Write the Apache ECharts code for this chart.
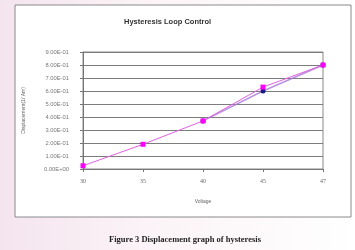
<!DOCTYPE html>
<html>
<head>
<meta charset="utf-8">
<script src="https://cdn.jsdelivr.net/npm/echarts@6/dist/echarts.min.js"></script>
<style>
  html,body{margin:0;padding:0;}
  body{background:linear-gradient(90deg,#f4e4ee 0%,#fbf3f7 40%,#ffffff 100%);}
  #main{width:355px;height:250px;}
</style>
</head>
<body>
<div id="main"></div>
<script>
  // 横轴电压
  var voltage=["30","35","40","45","47"];
  // 位移 (两条曲线)
  var dispUp=[0.025,0.19,0.37,0.63,0.80];
  var dispDown=[null,null,0.37,0.60,0.80];
  var yTicks=[0,0.1,0.2,0.3,0.4,0.5,0.6,0.7,0.8,0.9];

  var fmtE=function(v){
    var s=Number(v).toExponential(2).toUpperCase();
    // 1.00E-1 -> 1.00E-01
    return s.replace(/E([+-])(\d)$/,"E$10$2");
  };

  var chart=echarts.init(document.getElementById("main"));
  chart.setOption({
    animation:false,
    graphic:[
      {
        type:'rect',
        shape:{x:15,y:5,width:336,height:212},
        style:{fill:'#ffffff',stroke:'#8a8a8a',lineWidth:1},
        z:-10
      },
      {
        type:'text',
        x:185,
        y:240,
        style:{
          text:'Figure 3 Displacement graph of hysteresis',
          font:'bold 8.5px "Liberation Serif", serif',
          fill:'#222',
          align:'center',
          verticalAlign:'middle'
        }
      }
    ],
    title:{
      text:'Hysteresis Loop Control',
      left:119,
      top:13,
      textStyle:{fontSize:7.5,fontWeight:'bold',color:'#333',fontFamily:'Liberation Sans'}
    },
    grid:{
      left:83,
      right:32,
      top:52,
      bottom:81,
      show:true,
      borderColor:'#888',
      borderWidth:1,
      backgroundColor:'#fff'
    },
    xAxis:{
      type:'category',
      data:voltage,
      boundaryGap:false,
      name:'Voltage',
      nameLocation:'middle',
      nameGap:30,
      nameTextStyle:{fontSize:5,color:'#666',fontFamily:'Liberation Sans'},
      axisLine:{lineStyle:{color:'#777'}},
      axisTick:{show:true,length:3,inside:false,lineStyle:{color:'#777'}},
      axisLabel:{fontSize:6,color:'#666',margin:9,fontFamily:'Liberation Serif'},
      splitLine:{show:false}
    },
    yAxis:{
      type:'value',
      min:yTicks[0],
      max:yTicks[yTicks.length-1],
      interval:0.1,
      name:'Displacement(1/ Am)',
      nameLocation:'middle',
      nameGap:57,
      nameTextStyle:{fontSize:5,color:'#666',fontFamily:'Liberation Sans'},
      axisLine:{show:true,lineStyle:{color:'#777'}},
      axisTick:{show:true,length:3,lineStyle:{color:'#777'}},
      axisLabel:{
        fontSize:5.8,
        color:'#777',
        margin:14,
        fontFamily:'Liberation Sans',
        formatter:function(v){return fmtE(v);}
      },
      splitLine:{lineStyle:{color:'#7c7c7c',width:1}}
    },
    series:[
      {
        name:'down',
        type:'line',
        data:dispDown,
        symbol:'circle',
        symbolSize:5,
        itemStyle:{color:'#1a1a80'},
        lineStyle:{color:'#a878d8',width:1.5,opacity:0.8},
        z:2
      },
      {
        name:'up',
        type:'line',
        data:dispUp,
        symbol:'rect',
        symbolSize:5,
        itemStyle:{color:'#ff00ff'},
        lineStyle:{color:'#e060e0',width:1},
        z:3
      }
    ]
  });
</script>
</body>
</html>
